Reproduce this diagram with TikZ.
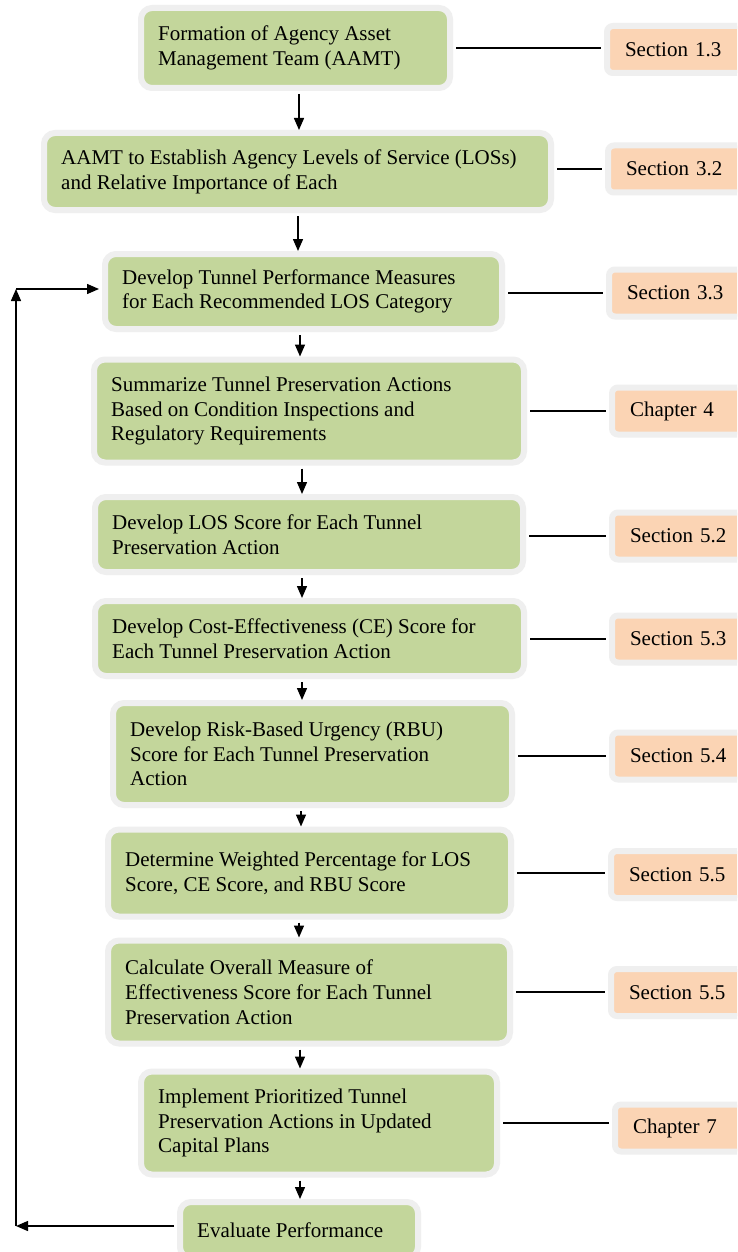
\documentclass[tikz,border=0pt]{standalone}
\usepackage{fontspec}
\setmainfont{Liberation Serif}
\usetikzlibrary{arrows.meta}
\definecolor{boxgreen}{HTML}{C3D69B}
\definecolor{boxpeach}{HTML}{FBD4B4}
\definecolor{glow}{HTML}{EFEFEF}
\begin{document}
\begin{tikzpicture}[x=1pt,y=-1pt,
  gbox/.style={draw=glow, line width=6pt, fill=boxgreen, rounded corners=11pt,
    inner sep=0pt},
  gtext/.style={anchor=west, inner xsep=20pt, inner ysep=0pt, align=left,
    font=\fontsize{21}{24.7}\selectfont},
  pbox/.style={draw=glow, line width=6pt, fill=boxpeach, rounded corners=6pt,
    anchor=west, minimum width=170pt, minimum height=47pt, text width=134pt,
    inner xsep=18pt, inner ysep=0pt, align=left,
    font=\fontsize{21}{24.7}\selectfont},
  arr/.style={line width=1.4pt, -{Triangle[length=12pt,width=10pt]}},
  conn/.style={line width=1.4pt, shorten <=3pt, shorten >=3pt}
]
\useasboundingbox (0,0) rectangle (737,1252);
\clip (0,0) rectangle (737,1252);
\fill[white] (0,0) rectangle (737,1252);

% green process boxes
\node[gbox, minimum width=309pt, minimum height=80pt,
  label={[gtext]west:{Formation of Agency Asset\\Management Team (AAMT)}}] (B1) at (295.5,48) {};
\node[gbox, minimum width=507pt, minimum height=77pt,
  label={[gtext]west:{AAMT to Establish Agency Levels of Service (LOSs)\\and Relative Importance of Each}}] (B2) at (297.5,171.5) {};
\node[gbox, minimum width=397pt, minimum height=75pt,
  label={[gtext]west:{Develop Tunnel Performance Measures\\for Each Recommended LOS Category}}] (B3) at (303.5,291.5) {};
\node[gbox, minimum width=430pt, minimum height=103pt,
  label={[gtext]west:{Summarize Tunnel Preservation Actions\\Based on Condition Inspections and\\Regulatory Requirements}}] (B4) at (309,411) {};
\node[gbox, minimum width=428pt, minimum height=75pt,
  label={[gtext]west:{Develop LOS Score for Each Tunnel\\Preservation Action}}] (B5) at (309,534.5) {};
\node[gbox, minimum width=429pt, minimum height=75pt,
  label={[gtext]west:{Develop Cost-Effectiveness (CE) Score for\\Each Tunnel Preservation Action}}] (B6) at (309.5,638.5) {};
\node[gbox, minimum width=399pt, minimum height=102pt,
  label={[gtext]west:{Develop Risk-Based Urgency (RBU)\\Score for Each Tunnel Preservation\\Action}}] (B7) at (312.5,754) {};
\node[gbox, minimum width=403pt, minimum height=87pt,
  label={[gtext]west:{Determine Weighted Percentage for LOS\\Score, CE Score, and RBU Score}}] (B8) at (309.5,873) {};
\node[gbox, minimum width=402pt, minimum height=103pt,
  label={[gtext]west:{Calculate Overall Measure of\\Effectiveness Score for Each Tunnel\\Preservation Action}}] (B9) at (309,992) {};
\node[gbox, minimum width=356pt, minimum height=103pt,
  label={[gtext]west:{Implement Prioritized Tunnel\\Preservation Actions in Updated\\Capital Plans}}] (B10) at (319,1123) {};
\node[gbox, minimum width=238pt, minimum height=56pt,
  label={[gtext]west:{Evaluate Performance}}] (B11) at (299,1230) {};

% reference boxes
\node[pbox] (P1) at (604,49.5) {Section 1.3};
\node[pbox] (P2) at (605,169) {Section 3.2};
\node[pbox] (P3) at (606,293) {Section 3.3};
\node[pbox] (P4) at (609,411) {Chapter 4};
\node[pbox] (P5) at (609,536) {Section 5.2};
\node[pbox] (P6) at (609,639) {Section 5.3};
\node[pbox] (P7) at (609,756) {Section 5.4};
\node[pbox] (P8) at (608,874.5) {Section 5.5};
\node[pbox] (P9) at (608,992.5) {Section 5.5};
\node[pbox] (P10) at (612,1128) {Chapter 7};

% connectors to references
\draw[conn] (B1.east) -- (B1.east -| P1.west);
\draw[conn] (B2.east |- P2.west) -- (P2.west);
\draw[conn] (B3.east |- P3.west) -- (P3.west);
\draw[conn] (B4.east |- P4.west) -- (P4.west);
\draw[conn] (B5.east |- P5.west) -- (P5.west);
\draw[conn] (B6.east |- P6.west) -- (P6.west);
\draw[conn] (B7.east |- P7.west) -- (P7.west);
\draw[conn] (B8.east) -- (B8.east -| P8.west);
\draw[conn] (B9.east) -- (B9.east -| P9.west);
\draw[conn] (B10.east) -- (B10.east -| P10.west);

% flow arrows
\draw[arr] (299,0 |- B1.south) ++(0,3) -- (299,0 |- B2.north);
\draw[arr] (298,0 |- B2.south) ++(0,3) -- (298,0 |- B3.north);
\draw[arr] (300,0 |- B3.south) ++(0,3) -- (300,0 |- B4.north);
\draw[arr] (302,0 |- B4.south) ++(0,3) -- (302,0 |- B5.north);
\draw[arr] (302,0 |- B5.south) ++(0,3) -- (302,0 |- B6.north);
\draw[arr] (302,0 |- B6.south) ++(0,3) -- (302,0 |- B7.north);
\draw[arr] (301,0 |- B7.south) ++(0,3) -- (301,0 |- B8.north);
\draw[arr] (299,0 |- B8.south) ++(0,3) -- (299,0 |- B9.north);
\draw[arr] (300,0 |- B9.south) ++(0,3) -- (300,0 |- B10.north);
\draw[arr] (300,0 |- B10.south) ++(0,3) -- (300,0 |- B11.north);

% feedback loop
\coordinate (fbL) at (16,1226);
\coordinate (fbT) at (16,289);
\draw[arr, shorten <=3pt] (fbL -| B11.west) -- (fbL);
\draw[arr] (fbL) -- (fbT);
\draw[arr, shorten >=3pt] (fbT) -- (fbT -| B3.west);
\end{tikzpicture}
\end{document}
